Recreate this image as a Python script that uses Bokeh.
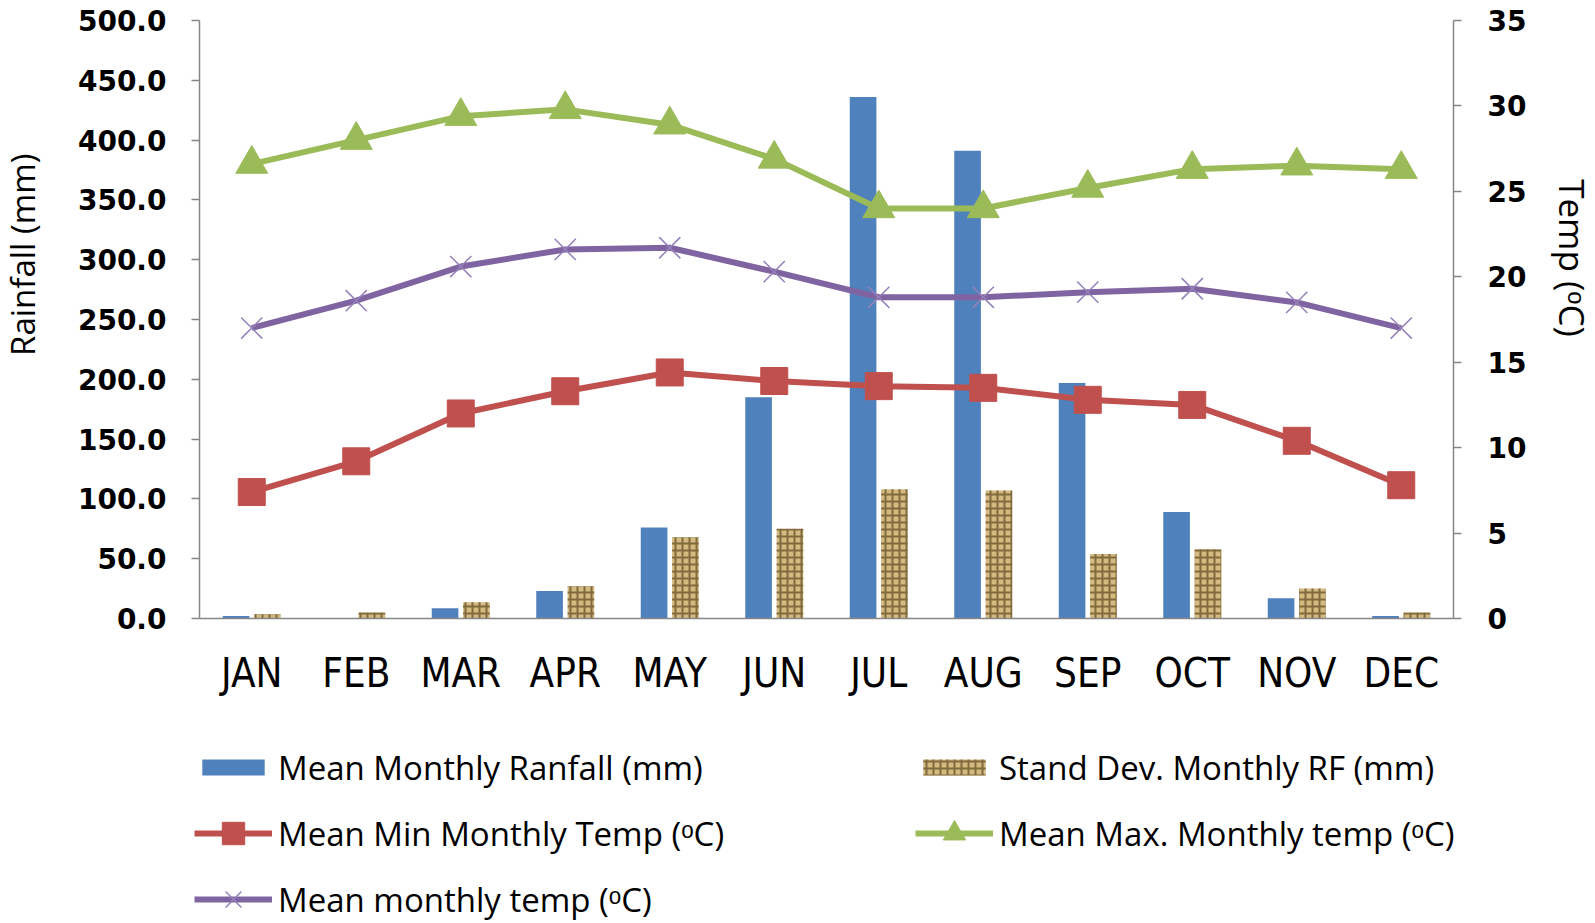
import math
import numpy as np
from bokeh.plotting import figure
from bokeh.layouts import row, column
from bokeh.models import (Range1d, LinearAxis, FactorRange, SingleIntervalTicker,
                          NumeralTickFormatter, Legend, LegendItem, Label, ColumnDataSource)
from bokeh.transform import dodge
from bokeh.embed import file_html
from bokeh.resources import INLINE

months = ["JAN", "FEB", "MAR", "APR", "MAY", "JUN", "JUL", "AUG", "SEP", "OCT", "NOV", "DEC"]
mean_rainfall = [2.0, 0.0, 8.5, 23.0, 76.0, 185.0, 436.0, 391.0, 197.0, 89.0, 17.0, 2.0]
std_rainfall = [3.5, 5.0, 13.5, 27.0, 68.0, 75.0, 108.0, 107.0, 54.0, 58.0, 25.0, 5.0]
min_temp = [7.4, 9.2, 12.0, 13.3, 14.4, 13.9, 13.6, 13.5, 12.8, 12.5, 10.4, 7.8]
max_temp = [26.6, 28.0, 29.4, 29.8, 28.9, 26.9, 24.0, 24.0, 25.2, 26.3, 26.5, 26.3]
mean_temp = [17.0, 18.6, 20.6, 21.6, 21.7, 20.3, 18.8, 18.8, 19.1, 19.3, 18.5, 17.0]

labels = ["Mean Monthly Ranfall (mm)", "Stand Dev. Monthly RF (mm)",
          "Mean Min Monthly Temp (ᵒC)", "Mean Max. Monthly temp (ᵒC)",
          "Mean monthly temp (ᵒC)"]

src = ColumnDataSource(dict(month=months, rain=mean_rainfall, sd=std_rainfall,
                            tmin=min_temp, tmax=max_temp, tmean=mean_temp))

BLUE = "#4F81BD"
RED = "#C0504D"
GREEN = "#9BBB59"
PURPLE = "#8064A2"
XCOL = "#9580BA"
SD_FILL = "#D4BA80"
AXIS = "#868686"
TXT_FONT = "'Open Sans', sans-serif"
W = 1595
H = 923
H1 = 720
LH = H - H1
SIDE = 48

bar_sd_style = dict(fill_color=SD_FILL, line_color=None, hatch_pattern="+",
                    hatch_color="#5C4822", hatch_alpha=0.7, hatch_scale=7, hatch_weight=2)

p = figure(width=W - 2 * SIDE, height=H1, x_range=FactorRange(factors=months),
           y_range=Range1d(0, 500), output_backend="svg", toolbar_location=None,
           min_border_left=199 - SIDE, min_border_right=W - SIDE - 1453, min_border_top=20,
           min_border_bottom=H1 - 618)
p.extra_y_ranges = {"temp": Range1d(0, 35)}
p.outline_line_color = None
p.xgrid.grid_line_color = None
p.ygrid.grid_line_color = None

# bars
p.vbar(x=dodge("month", -0.15, range=p.x_range), top="rain", width=0.255,
       source=src, fill_color=BLUE, line_color=None)
p.vbar(x=dodge("month", 0.15, range=p.x_range), top="sd", width=0.255,
       source=src, **bar_sd_style)

# lines
p.line(x="month", y="tmin", source=src, y_range_name="temp", line_color=RED, line_width=6)
p.scatter(x="month", y="tmin", source=src, y_range_name="temp", marker="square",
          size=27, fill_color=RED, line_color=RED)
p.line(x="month", y="tmax", source=src, y_range_name="temp", line_color=GREEN, line_width=6)
p.scatter(x="month", y="tmax", source=src, y_range_name="temp", marker="triangle",
          size=32, fill_color=GREEN, line_color=GREEN)
p.line(x="month", y="tmean", source=src, y_range_name="temp", line_color=PURPLE, line_width=6)
p.scatter(x="month", y="tmean", source=src, y_range_name="temp", marker="x",
          size=30, line_color=XCOL, line_width=1.5)


def style_y(ax, standoff):
    ax.major_label_text_font = "'DejaVu Sans', sans-serif"
    ax.major_label_text_font_style = "bold"
    ax.major_label_text_font_size = "28px"
    ax.major_label_text_color = "#000000"
    ax.major_label_standoff = standoff
    ax.major_tick_out = 8
    ax.major_tick_in = 0
    ax.minor_tick_line_color = None
    ax.axis_line_color = AXIS
    ax.axis_line_width = 1.5
    ax.major_tick_line_color = AXIS
    ax.major_tick_line_width = 1.5


yl = p.yaxis[0]
yl.ticker = SingleIntervalTicker(interval=50, num_minor_ticks=0)
yl.formatter = NumeralTickFormatter(format="0.0")
style_y(yl, 25)

yr = LinearAxis(y_range_name="temp", ticker=SingleIntervalTicker(interval=5, num_minor_ticks=0))
yr.formatter = NumeralTickFormatter(format="0")
style_y(yr, 26)
p.add_layout(yr, "right")

xa = p.xaxis[0]
xa.major_tick_line_color = None
xa.major_tick_out = 0
xa.major_tick_in = 0
xa.axis_line_color = AXIS
xa.axis_line_width = 1.5
xa.major_label_text_font = "'Liberation Sans Narrow', 'DejaVu Sans Condensed', sans-serif"
xa.major_label_text_font_size = "40px"
xa.major_label_text_color = "#000000"
xa.major_label_standoff = 31


def blank_fig(w, h):
    f = figure(width=w, height=h, x_range=Range1d(0, w), y_range=Range1d(0, h),
               x_axis_type=None, y_axis_type=None,
               output_backend="svg", toolbar_location=None, min_border=0)
    f.xgrid.grid_line_color = None
    f.ygrid.grid_line_color = None
    f.outline_line_color = None
    return f


# axis titles
left = blank_fig(SIDE, H1)
left.add_layout(Label(x=22, y=H1 - 282, text="Rainfall (mm)", angle=math.pi / 2,
                      text_align="center", text_baseline="middle",
                      text_font=TXT_FONT, text_font_size="33px", text_color="#000000"))
right = blank_fig(SIDE, H1)
right.add_layout(Label(x=25, y=H1 - 286, text="Temp (ᵒC)", angle=-math.pi / 2,
                       text_align="center", text_baseline="middle",
                       text_font=TXT_FONT, text_font_size="35px", text_color="#000000"))

# legend panel: swatch glyphs hold only a NaN placeholder, so nothing is plotted
lg = blank_fig(W, LH)
nan = np.array([np.nan])
e = dict(x=nan, y=nan)
sw_rain = lg.vbar(x=nan, top=nan, width=1, fill_color=BLUE, line_color=None)
sw_sd = lg.vbar(x=nan, top=nan, width=1, **bar_sd_style)
sw_min_l = lg.line(line_color=RED, line_width=6, **e)
sw_min_s = lg.scatter(marker="square", size=27, fill_color=RED, line_color=RED, **e)
sw_max_l = lg.line(line_color=GREEN, line_width=6, **e)
sw_max_s = lg.scatter(marker="triangle", size=32, fill_color=GREEN, line_color=GREEN, **e)
sw_mean_l = lg.line(line_color=PURPLE, line_width=6, **e)
sw_mean_s = lg.scatter(marker="x", size=30, line_color=XCOL, line_width=1.5, **e)

base = dict(orientation="vertical", glyph_width=78, label_standoff=6, padding=0, margin=0,
            border_line_color=None, background_fill_alpha=0,
            label_text_font=TXT_FONT, label_text_font_size="33px",
            label_text_color="#000000")
BAR_H = 42
LINE_H = 56
centers = [48.5, 113.0, 179.0]  # row centres, px from top of the legend panel


def add_leg(label, renderers, col_x, row_i, is_bar):
    if is_bar:
        kw = dict(glyph_height=20, label_height=BAR_H)
        h = BAR_H
    else:
        kw = dict(glyph_height=LINE_H, label_height=LINE_H)
        h = LINE_H
    vy = LH - centers[row_i] - h / 2
    lg.add_layout(Legend(items=[LegendItem(label=label, renderers=renderers)],
                         location=(col_x, vy), **kw, **base), "center")


add_leg(labels[0], [sw_rain], 194, 0, True)
add_leg(labels[1], [sw_sd], 915, 0, True)
add_leg(labels[2], [sw_min_l, sw_min_s], 194, 1, False)
add_leg(labels[3], [sw_max_l, sw_max_s], 915, 1, False)
add_leg(labels[4], [sw_mean_l, sw_mean_s], 194, 2, False)

layout = column(row(left, p, right, spacing=0), lg, spacing=0)
open("out.html", "w").write(file_html(layout, INLINE))
